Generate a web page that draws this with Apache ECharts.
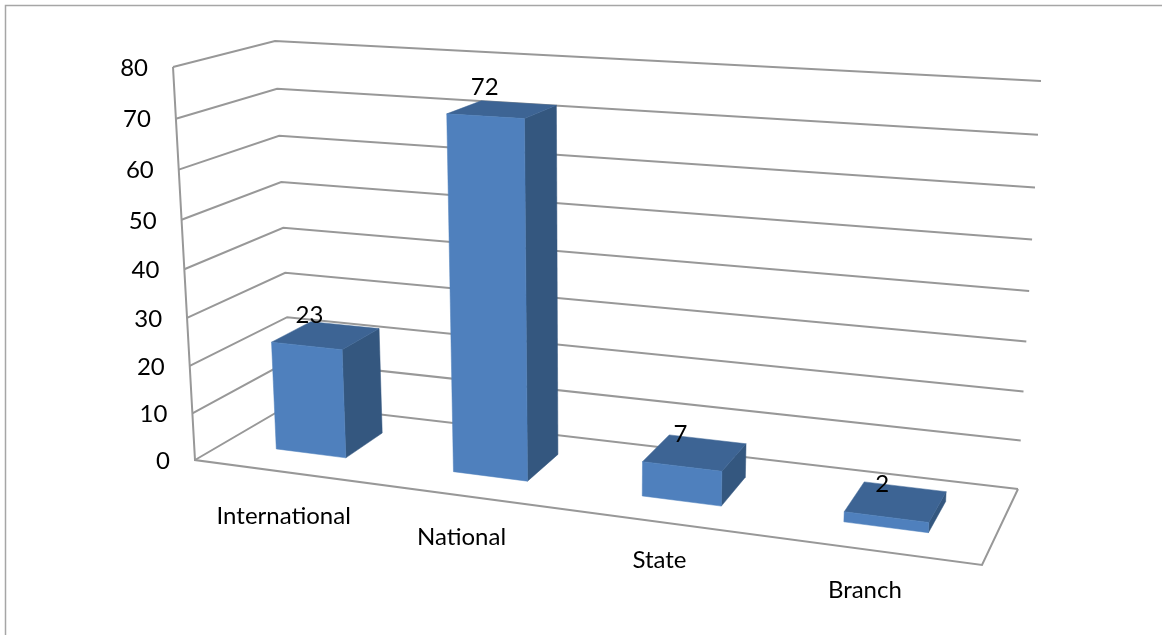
<!DOCTYPE html>
<html>
<head>
<meta charset="utf-8">
<style>html,body{margin:0;padding:0;background:#fff}#c{width:1162px;height:635px}</style>
<script src="https://cdn.jsdelivr.net/npm/echarts@6/dist/echarts.min.js"></script>
</head>
<body>
<div id="c"></div>
<script>
const categories = ['International', 'National', 'State', 'Branch'];
const values = [23, 72, 7, 2];
const yTicks = [0, 10, 20, 30, 40, 50, 60, 70, 80];

// Box corners of the pseudo-3D plot (front = nearest the viewer, back = wall)
const FRONT = { l0: [195, 460], l1: [173, 67], r0: [982, 565], r1: [1004, 112] };
const BACK  = { l0: [291, 404], l1: [275, 41], r0: [1018, 489], r1: [1041, 81] };
const BAR_DEPTH = [0.315, 0.735];
const BAR_HALF = 0.2;
const U_PERSP = 0.139, V_PERSP = 0.06;
const FONT = '24px Lato, "Open Sans", sans-serif';
const TEXT = '#000';
const LINE = '#989898';
const CAT_NUDGE = [[1, 45], [-5, 41], [-3, 38], [-7, 40]];

const lerp = (a, b, t) => [a[0] + (b[0] - a[0]) * t, a[1] + (b[1] - a[1]) * t];
function project(u, v, d) {
  const uw = u / (1 + U_PERSP * (1 - u));
  const vw = v / (1 + V_PERSP * (1 - v));
  const f = lerp(lerp(FRONT.l0, FRONT.r0, uw), lerp(FRONT.l1, FRONT.r1, uw), vw);
  const b = lerp(lerp(BACK.l0, BACK.r0, uw), lerp(BACK.l1, BACK.r1, uw), vw);
  return lerp(f, b, d);
}
const norm = (params, pt) => {
  const cs = params.coordSys;
  return [(pt[0] - cs.x) / cs.width, (cs.y + cs.height - pt[1]) / cs.height];
};
const label = (text, x, y, align) => ({
  type: 'text', silent: true, z2: 50,
  style: { text, x, y, fill: TEXT, font: FONT, align: align || 'center', verticalAlign: 'middle' }
});
const line = (points) => ({
  type: 'polyline', shape: { points },
  style: { stroke: LINE, lineWidth: 2, fill: null }
});
const poly = (points, fill) => ({
  type: 'polygon', shape: { points }, style: { fill, stroke: fill, lineWidth: 0.5 }
});

function renderTick(params, api) {
  const [, v] = norm(params, api.coord([0, api.value(1)]));
  const a = project(0, v, 0), b = project(0, v, 1), c = project(1, v, 1);
  return { type: 'group', children: [
    line([a, b, c]),
    label(String(api.value(1)), a[0] - 25, a[1] + 1, 'right')
  ]};
}
function renderFrame(params, api) {
  const o = norm(params, api.coord([0, 0]));
  const top = norm(params, api.coord([0, 80]));
  return { type: 'group', children: [
    line([project(0, top[1], 0), project(0, o[1], 0), project(1, o[1], 0), project(1, o[1], 1)])
  ]};
}
function renderBar(params, api) {
  const i = api.value(0), val = api.value(1);
  const c = api.coord([i, val]);
  const band = api.size([1, 0])[0];
  const base = api.coord([i, 0]);
  const u0 = norm(params, [c[0] - band * BAR_HALF, c[1]])[0];
  const u1 = norm(params, [c[0] + band * BAR_HALF, c[1]])[0];
  const v = norm(params, c)[1], v0 = norm(params, base)[1];
  const [d0, d1] = BAR_DEPTH;
  const ftl = project(u0, v, d0), ftr = project(u1, v, d0);
  const fbl = project(u0, v0, d0), fbr = project(u1, v0, d0);
  const btl = project(u0, v, d1), btr = project(u1, v, d1), bbr = project(u1, v0, d1);
  const uc = norm(params, c)[0];
  const ground = project(uc, v0, 0);
  const n = CAT_NUDGE[i];
  return { type: 'group', children: [
    poly([ftr, btr, bbr, fbr], '#34577f'),
    poly([ftl, btl, btr, ftr], '#3d6494'),
    poly([ftl, ftr, fbr, fbl], '#4f80bd'),
    label(String(val), ftl[0] + 38, ftl[1] - 27),
    label(categories[i], ground[0] + n[0], ground[1] + n[1])
  ]};
}

const chart = echarts.init(document.getElementById('c'), null, { renderer: 'canvas' });
chart.setOption({
  animation: false,
  backgroundColor: '#fff',
  grid: { left: 195, top: 67, width: 787, height: 393 },
  xAxis: { type: 'category', data: categories, show: false },
  yAxis: { type: 'value', min: 0, max: 80, interval: 10, show: false },
  graphic: [{
    type: 'rect', silent: true, z: -1,
    shape: { x: 5.5, y: 5.5, width: 1300, height: 800 },
    style: { fill: null, stroke: '#a6a6a6', lineWidth: 1.5 }
  }],
  series: [
    { type: 'custom', clip: false, silent: true, z: 1, renderItem: renderTick,
      encode: { x: 0, y: 1 }, data: yTicks.map(t => [0, t]) },
    { type: 'custom', clip: false, silent: true, z: 2, renderItem: renderFrame,
      encode: { x: 0, y: 1 }, data: [[0, 0]] },
    { type: 'custom', clip: false, silent: true, z: 3, renderItem: renderBar,
      encode: { x: 0, y: 1 }, data: values.map((v, i) => [i, v]) }
  ]
});
</script>
</body>
</html>
